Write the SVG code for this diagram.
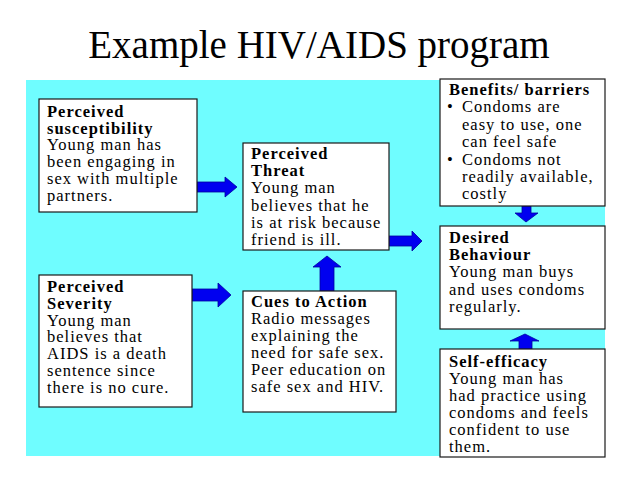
<svg xmlns="http://www.w3.org/2000/svg" width="638" height="479" viewBox="0 0 638 479">
<style>
.bg{fill:#fff}
.panel{fill:#6ffdff}
.box{fill:#fff;stroke:#1a1a1a;stroke-width:1.2}
.t{font-family:"Liberation Serif","Times New Roman",serif;font-size:16.5px;letter-spacing:1px;fill:#000}
.b{font-weight:bold}
.title{font-family:"Liberation Serif","Times New Roman",serif;font-size:39px;fill:#000}
.arr{fill:#0000f0;stroke:#0000a0;stroke-width:0.8}
</style>
<rect class="bg" x="0" y="0" width="638" height="479"/>
<rect class="panel" x="26" y="80" width="579" height="376"/>
<text class="title" x="319" y="58" text-anchor="middle">Example HIV/AIDS program</text>

<g id="connectors">
  <polygon class="arr" points="197,182 225,182 225,177 237,187 225,197 225,192 197,192"/>
  <polygon class="arr" points="192,289 218,289 218,283 231,295 218,307 218,301 192,301"/>
  <polygon class="arr" points="389,236 412,236 412,231 422,241 412,251 412,246 389,246"/>
  <polygon class="arr" points="320,291 320,267 313,267 327,256 341,267 334,267 334,291"/>
  <polygon class="arr" points="522,206 531,206 531,213 538,213 526,222 515,213 522,213"/>
  <polygon class="arr" points="519,349 519,341 510,341 525,334 539,341 532,341 532,349"/>
</g>

<g id="susceptibility">
  <rect class="box" x="39" y="99" width="158" height="113"/>
  <text class="t" x="47" y="117"><tspan class="b">Perceived</tspan><tspan class="b" x="47" dy="16.7">susceptibility</tspan><tspan x="47" dy="16.7">Young man has</tspan><tspan x="47" dy="16.7">been engaging in</tspan><tspan x="47" dy="16.7">sex with multiple</tspan><tspan x="47" dy="16.7">partners.</tspan></text>
</g>

<g id="severity">
  <rect class="box" x="39" y="275" width="153" height="132"/>
  <text class="t" x="47" y="292"><tspan class="b">Perceived</tspan><tspan class="b" x="47" dy="16.8">Severity</tspan><tspan x="47" dy="16.8">Young man</tspan><tspan x="47" dy="16.8">believes that</tspan><tspan x="47" dy="16.8">AIDS is a death</tspan><tspan x="47" dy="16.8">sentence since</tspan><tspan x="47" dy="16.8">there is no cure.</tspan></text>
</g>

<g id="threat">
  <rect class="box" x="243" y="143" width="146" height="107"/>
  <text class="t" x="251" y="159"><tspan class="b">Perceived</tspan><tspan class="b" x="251" dy="17.2">Threat</tspan><tspan x="251" dy="17.2">Young man</tspan><tspan x="251" dy="17.2">believes that he</tspan><tspan x="251" dy="17.2">is at risk because</tspan><tspan x="251" dy="17.2">friend is ill.</tspan></text>
</g>

<g id="cues">
  <rect class="box" x="243" y="291" width="153" height="121"/>
  <text class="t" x="251" y="307"><tspan class="b">Cues to Action</tspan><tspan x="251" dy="17">Radio messages</tspan><tspan x="251" dy="17">explaining the</tspan><tspan x="251" dy="17">need for safe sex.</tspan><tspan x="251" dy="17">Peer education on</tspan><tspan x="251" dy="17">safe sex and HIV.</tspan></text>
</g>

<g id="benefits">
  <rect class="box" x="440" y="79" width="165" height="127"/>
  <text class="t b" x="449" y="95">Benefits/ barriers</text>
  <text class="t" x="447" y="112">•</text>
  <text class="t" x="462" y="112">Condoms are<tspan x="462" dy="17.5">easy to use, one</tspan><tspan x="462" dy="17.5">can feel safe</tspan></text>
  <text class="t" x="447" y="165">•</text>
  <text class="t" x="462" y="165">Condoms not<tspan x="462" dy="16.8">readily available,</tspan><tspan x="462" dy="16.8">costly</tspan></text>
</g>

<g id="desired">
  <rect class="box" x="440" y="226" width="165" height="103"/>
  <text class="t" x="449" y="243"><tspan class="b">Desired</tspan><tspan class="b" x="449" dy="17.2">Behaviour</tspan><tspan x="449" dy="17.2">Young man buys</tspan><tspan x="449" dy="17.2">and uses condoms</tspan><tspan x="449" dy="17.2">regularly.</tspan></text>
</g>

<g id="selfefficacy">
  <rect class="box" x="440" y="349" width="165" height="108"/>
  <text class="t" x="449" y="367"><tspan class="b">Self-efficacy</tspan><tspan x="449" dy="17">Young man has</tspan><tspan x="449" dy="17">had practice using</tspan><tspan x="449" dy="17">condoms and feels</tspan><tspan x="449" dy="17">confident to use</tspan><tspan x="449" dy="17">them.</tspan></text>
</g>
</svg>
